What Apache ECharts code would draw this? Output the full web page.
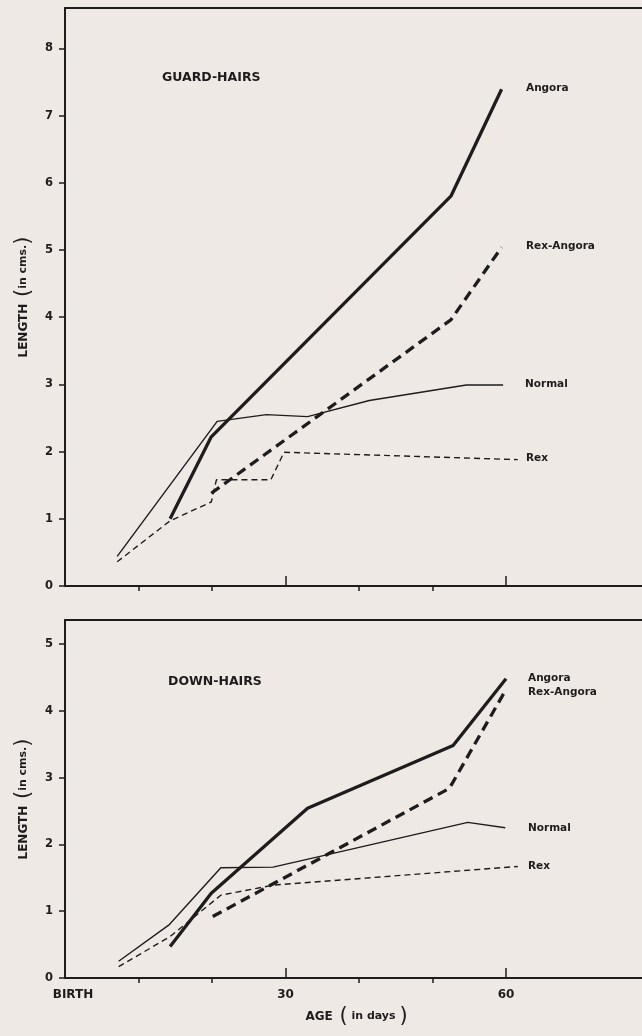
<!DOCTYPE html>
<html>
<head>
<meta charset="utf-8">
<script src="https://cdn.jsdelivr.net/npm/echarts@6/dist/echarts.min.js"></script>
<style>
  html, body { margin: 0; padding: 0; background: #efe9e6; }
  #chart { width: 642px; height: 1036px; }
</style>
</head>
<body>
<div id="chart"></div>
<script>
// guard-hairs: [age in days, length in cms]
const guardAngora = [[14.3, 1.0], [19.9, 2.22], [52.5, 5.8], [59.4, 7.39]]
const guardRexAngora = [[19.9, 1.38], [52.5, 3.96], [59.4, 5.04]]
const guardNormal = [[7.1, 0.44], [20.7, 2.45], [27.4, 2.55], [33, 2.52], [41.4, 2.76], [54.6, 2.99], [59.6, 2.99]]
const guardRex = [[7.1, 0.36], [14.3, 0.97], [19.9, 1.25], [20.6, 1.58], [28, 1.58], [29.8, 1.99], [61.6, 1.88]]

// down-hairs
const downAngora = [[14.3, 0.47], [19.9, 1.27], [33, 2.54], [52.8, 3.48], [60, 4.48]]
const downRexAngora = [[20.1, 0.92], [52.3, 2.84], [60, 4.32]]
const downNormal = [[7.3, 0.25], [14.2, 0.8], [21.2, 1.65], [28.3, 1.66], [34.7, 1.82], [54.8, 2.33], [59.9, 2.25]]
const downRex = [[7.3, 0.17], [14.3, 0.62], [21.2, 1.24], [28.3, 1.39], [61.6, 1.67]]

const guardTicks = [0, 1, 2, 3, 4, 5, 6, 7, 8]
const downTicks = [0, 1, 2, 3, 4, 5]
const minorAgeTicks = [10, 20, 40, 50]
const majorAgeTicks = [30, 60]
const ageLabels = { 0: '{birth|BIRTH}', 30: '30', 60: '60' }

const ink = '#1e1c1c'
const font = '"DejaVu Sans", sans-serif'
const AGE_MAX = 78.5

const chart = echarts.init(document.getElementById('chart'))

const nameRich = {
  b: { fontFamily: font, fontWeight: 'bold', fontSize: 12, color: ink },
  s: { fontFamily: font, fontWeight: 'bold', fontSize: 11, color: ink },
  p: { fontFamily: font, fontSize: 21, color: ink }
}

const yAxisFor = (gridIndex, max, ticks) => ({
  type: 'value', gridIndex, min: 0, max,
  name: '{b|LENGTH}  {p|(}{s|in cms.}{p|)}',
  nameLocation: 'middle',
  nameRotate: 90,
  nameGap: 30,
  nameTextStyle: { rich: nameRich },
  axisLine: { show: true, lineStyle: { color: ink, width: 2 } },
  axisTick: { show: true, length: 6, customValues: ticks, lineStyle: { color: ink, width: 1.5 } },
  axisLabel: { customValues: ticks, margin: 12, color: ink, fontFamily: font, fontWeight: 'bold', fontSize: 11.5 },
  splitLine: { show: false }
})

const xAxisMinor = (gridIndex, showLabels) => ({
  type: 'value', gridIndex, min: 0, max: AGE_MAX,
  axisLine: { show: true, onZero: false, lineStyle: { color: ink, width: 2 } },
  axisTick: { show: true, length: 5, customValues: minorAgeTicks, lineStyle: { color: ink, width: 1.5 } },
  axisLabel: showLabels ? {
    customValues: [0, 30, 60], margin: 11, color: ink, fontFamily: font, fontWeight: 'bold', fontSize: 12,
    formatter: v => ageLabels[v] || '',
    rich: { birth: { fontFamily: font, fontWeight: 'bold', fontSize: 12, color: ink, padding: [0, 0, 0, 16] } }
  } : { show: false },
  splitLine: { show: false },
  name: showLabels ? '{b|AGE}  {p|(}{s| in days }{p|)}' : '',
  nameLocation: 'middle',
  nameGap: 28,
  nameTextStyle: { rich: nameRich, padding: [0, 0, 0, 6] }
})

const xAxisMajor = (gridIndex) => ({
  type: 'value', gridIndex, min: 0, max: AGE_MAX,
  axisLine: { show: false },
  axisTick: { show: true, length: 10, customValues: majorAgeTicks, lineStyle: { color: ink, width: 1.5 } },
  axisLabel: { show: false },
  splitLine: { show: false }
})

// top frame line of each panel
const xAxisFrame = (gridIndex) => ({
  type: 'value', gridIndex, min: 0, max: AGE_MAX, position: 'top',
  axisLine: { show: true, onZero: false, lineStyle: { color: ink, width: 2 } },
  axisTick: { show: false },
  axisLabel: { show: false },
  splitLine: { show: false }
})

const lineSeries = (name, data, panel, thick, dashed) => ({
  name,
  type: 'line',
  xAxisIndex: panel,
  yAxisIndex: panel,
  data,
  symbol: 'none',
  silent: true,
  lineStyle: {
    color: ink,
    width: thick ? 3.3 : 1.4,
    type: dashed ? (thick ? [10, 6] : [6, 4]) : 'solid'
  }
})

const label = (text, x, y, size) => ({
  type: 'text', left: x, top: y,
  style: { text, fill: ink, font: `bold ${size || 10.5}px ${font}` }
})

chart.setOption({
  backgroundColor: '#efe9e6',
  animation: false,
  grid: [
    { left: 65, right: 0, top: 8, bottom: 450 },
    { left: 65, right: 0, top: 620, bottom: 58 }
  ],
  xAxis: [xAxisMinor(0, false), xAxisMinor(1, true), xAxisMajor(0), xAxisMajor(1), xAxisFrame(0), xAxisFrame(1)],
  yAxis: [yAxisFor(0, 8.6, guardTicks), yAxisFor(1, 5.36, downTicks)],
  series: [
    lineSeries('Angora', guardAngora, 0, true, false),
    lineSeries('Rex-Angora', guardRexAngora, 0, true, true),
    lineSeries('Normal', guardNormal, 0, false, false),
    lineSeries('Rex', guardRex, 0, false, true),
    lineSeries('Angora', downAngora, 1, true, false),
    lineSeries('Rex-Angora', downRexAngora, 1, true, true),
    lineSeries('Normal', downNormal, 1, false, false),
    lineSeries('Rex', downRex, 1, false, true)
  ],
  graphic: [
    label('GUARD-HAIRS', 162, 71, 12.5),
    label('Angora', 526, 83),
    label('Rex-Angora', 526, 241),
    label('Normal', 525, 379),
    label('Rex', 526, 453),
    label('DOWN-HAIRS', 168, 675, 12.5),
    label('Angora', 528, 673),
    label('Rex-Angora', 528, 687),
    label('Normal', 528, 823),
    label('Rex', 528, 861)
  ]
})
</script>
</body>
</html>
